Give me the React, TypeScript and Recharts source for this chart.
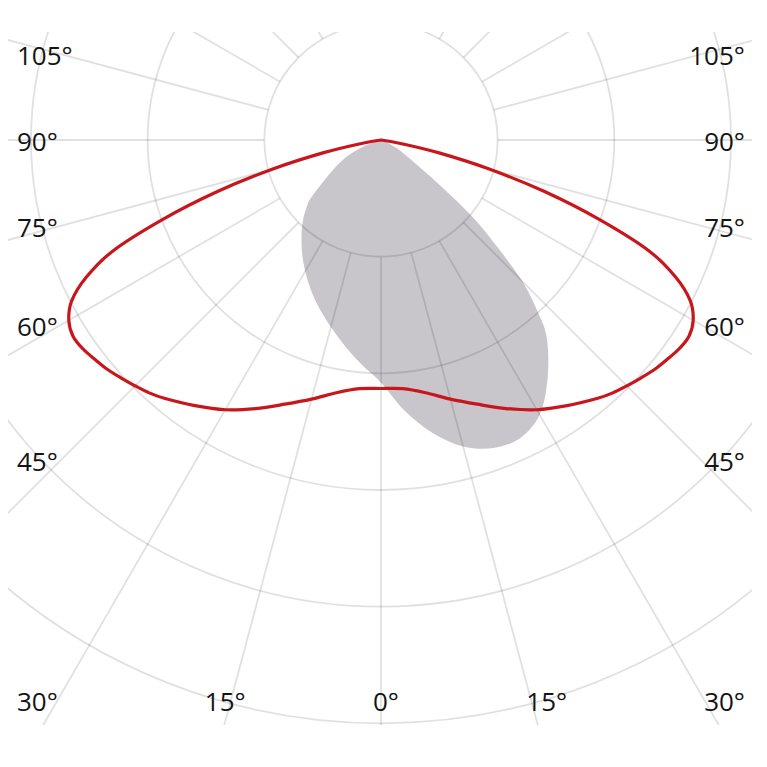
import { RadarChart, Radar, PolarGrid, PolarAngleAxis, PolarRadiusAxis } from "recharts";

// gamma angles (deg from nadir), shared by both half-planes
const GAMMA = [
  0, 5, 10, 15, 20, 25, 30, 35, 40, 42.5, 45, 47.5, 50,
  52.5, 55, 57.5, 60, 62.5, 65, 67.5, 70, 72.5, 75, 77.5, 80,
  85, 90, 105, 120, 135, 150, 165, 180,
];

// red curve (symmetric)
const RED = [
  213, 214, 220, 230, 241, 254, 267, 278, 289, 294, 298, 302, 306,
  309, 312, 313, 309, 299, 279, 249, 199, 147, 96, 51, 17,
  0, 0, 0, 0, 0, 0, 0, 0,
];

// grey lobe, right half-plane
const GREY_RIGHT = [
  208, 233, 255, 272, 281, 282, 272, 249, 221, 198, 171, 134, 102,
  64, 40, 28, 21, 15, 10, 6, 3, 2, 0, 0, 0,
  0, 0, 0, 0, 0, 0, 0, 0,
];

// grey lobe, left half-plane
const GREY_LEFT = [
  208, 193, 179, 166, 154, 142, 130, 118, 106, 100, 94, 87, 80,
  68, 58, 50, 43, 37, 30, 22, 14, 8, 4, 1, 0,
  0, 0, 0, 0, 0, 0, 0, 0,
];

const LABEL_GAMMAS = [0, 15, 30, 45, 60, 75, 90, 105];
const RING_VALUES = [100, 200, 300, 400, 500];
const SPOKES = [0, 15, 30, 45, 60, 75, 90, 105, 120, 135, 150, 165, 180, 195, 210, 225, 240, 255, 270, 285, 300, 315, 330, 345];

const data = [
  ...GAMMA.map((g, i) => ({ angle: g, red: RED[i], grey: GREY_RIGHT[i] })),
  ...GAMMA.slice(1, -1)
    .map((g, i) => ({ angle: 360 - g, red: RED[i + 1], grey: GREY_LEFT[i + 1] }))
    .reverse(),
];

const labelTicks = [
  ...LABEL_GAMMAS,
  ...LABEL_GAMMAS.filter((g) => g > 0).map((g) => 360 - g).reverse(),
];

const W = 744;
const H = 693;
const TOP = 24;
const CX = 373;
const CY = 108;
const MAX = 500;
const OUTER = 583.3;
const margin = { top: 0, right: 0, bottom: 0, left: 0 };

// closed Catmull-Rom through the radar points, with a corner at the pole
const smoothPath = (points: any[]) => {
  const pts: any[] = [];
  points.forEach((p) => {
    const last = pts[pts.length - 1];
    if (!last || Math.abs(last.x - p.x) > 0.3 || Math.abs(last.y - p.y) > 0.3) pts.push(p);
  });
  const n = pts.length;
  const tan = (i: number) => {
    const p = pts[i];
    if (p.radius !== undefined && p.radius < 0.5) return { x: 0, y: 0 };
    const a = pts[(i - 1 + n) % n];
    const b = pts[(i + 1) % n];
    return { x: (b.x - a.x) / 2, y: (b.y - a.y) / 2 };
  };
  let d = `M${pts[0].x},${pts[0].y}`;
  for (let i = 0; i < n; i++) {
    const p1 = pts[i];
    const p2 = pts[(i + 1) % n];
    const t1 = tan(i);
    const t2 = tan((i + 1) % n);
    d += ` C${p1.x + t1.x / 3},${p1.y + t1.y / 3} ${p2.x - t2.x / 3},${p2.y - t2.y / 3} ${p2.x},${p2.y}`;
  }
  return d + " Z";
};

const GreyShape = (props: any) => <path d={smoothPath(props.points)} fill="#c8c6cb" stroke="none" />;
const RedShape = (props: any) => (
  <path d={smoothPath(props.points)} fill="none" stroke="#c8161d" strokeWidth={3.2} strokeLinejoin="round" />
);

const AngleTick = (props: any) => {
  const a = Number(props.payload?.value);
  const g = a <= 180 ? a : 360 - a;
  const side = a === 0 ? 0 : a < 180 ? 1 : -1;
  const rad = (g * Math.PI) / 180;
  let x = CX;
  let y = CY + 562;
  let anchor: "start" | "middle" | "end" = "middle";
  if (g < 25) {
    x = CX + side * 600 * Math.tan(rad) + 5;
  } else {
    y = CY + 2 + (320 * Math.cos(rad)) / Math.sin(rad);
    if (y > CY + 540) y = CY + 562;
    x = side > 0 ? CX + 364 : CX - 364;
    anchor = side > 0 ? "end" : "start";
  }
  return (
    <text
      x={x}
      y={y}
      dy="0.35em"
      textAnchor={anchor}
      fontFamily="Open Sans"
      fontSize={26}
      fill="#141414"
    >
      {g}°
    </text>
  );
};

const layer = { position: "absolute" as const, left: 0, top: TOP };

export default function App() {
  return (
    <div style={{ position: "relative", width: W, height: TOP + H }}>
      {/* grey lobe */}
      <div style={layer}>
        <RadarChart
          width={W}
          height={H}
          data={data}
          cx={CX}
          cy={CY}
          innerRadius={0}
          outerRadius={OUTER}
          startAngle={-90}
          endAngle={270}
          margin={margin}
        >
          <PolarAngleAxis type="number" dataKey="angle" domain={[0, 360]} tick={false} axisLine={false} tickLine={false} />
          <PolarRadiusAxis type="number" domain={[0, MAX]} tick={false} axisLine={false} />
          <Radar dataKey="grey" shape={GreyShape} dot={false} isAnimationActive={false} />
        </RadarChart>
      </div>

      {/* grid: spokes start at the first ring */}
      <div style={layer}>
        <RadarChart
          width={W}
          height={H}
          data={data}
          cx={CX}
          cy={CY}
          innerRadius={OUTER / 5}
          outerRadius={760}
          startAngle={-90}
          endAngle={270}
          margin={margin}
        >
          <PolarGrid
            gridType="circle"
            polarAngles={SPOKES}
            polarRadius={RING_VALUES.map((v) => (v / MAX) * OUTER)}
            stroke="rgba(0,0,0,0.12)"
            strokeWidth={1.8}
          />
        </RadarChart>
      </div>

      {/* red curve + labels */}
      <div style={layer}>
        <RadarChart
          width={W}
          height={H}
          data={data}
          cx={CX}
          cy={CY}
          innerRadius={0}
          outerRadius={OUTER}
          startAngle={-90}
          endAngle={270}
          margin={margin}
        >
          <PolarAngleAxis
            type="number"
            dataKey="angle"
            domain={[0, 360]}
            ticks={labelTicks}
            tick={<AngleTick />}
            axisLine={false}
            tickLine={false}
          />
          <PolarRadiusAxis type="number" domain={[0, MAX]} tick={false} axisLine={false} />
          <Radar dataKey="red" shape={RedShape} dot={false} isAnimationActive={false} />
        </RadarChart>
      </div>
    </div>
  );
}
